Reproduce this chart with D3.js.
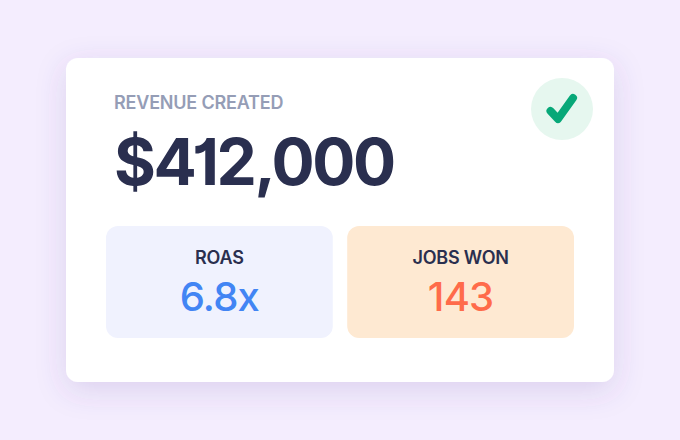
<!DOCTYPE html>
<html>
<head>
<meta charset="utf-8">
<script src="https://cdn.jsdelivr.net/npm/d3@7"></script>
<style>
html, body { margin: 0; padding: 0; background: #f4edfe; }
svg { display: block; }
text { font-family: Inter, sans-serif; }
</style>
</head>
<body>
<div id="chart"></div>
<script>
// ************ Data ************
var headline_label = 'REVENUE CREATED';
var headline_value = '$412,000';
var tile_labels = ['ROAS', 'JOBS WON'];
var tile_values = ['6.8x', '143'];
var tile_fills = ['#f0f2fe', '#fee9d2'];
var tile_colors = ['#4285f4', '#ff6b4a'];

var svg = d3.select('#chart').append('svg')
	.attr('width', 680)
	.attr('height', 440);

// card shadow
var filter = svg.append('defs').append('filter')
	.attr('id', 'shadow')
	.attr('x', '-20%').attr('y', '-20%')
	.attr('width', '140%').attr('height', '150%');
filter.append('feDropShadow')
	.attr('dx', 0).attr('dy', 8)
	.attr('stdDeviation', 15)
	.attr('flood-color', '#5a3c96')
	.attr('flood-opacity', 0.16);

svg.append('rect')
	.attr('width', 680).attr('height', 440)
	.style('fill', '#f4edfe');

svg.append('rect')
	.attr('x', 66).attr('y', 58)
	.attr('width', 548).attr('height', 324)
	.attr('rx', 12)
	.style('fill', '#fff')
	.style('filter', 'url(#shadow)');

// ************ Headline ************
svg.append('text')
	.attr('x', 114).attr('y', 109)
	.style('font-size', '18px')
	.style('font-weight', 600)
	.style('letter-spacing', '-0.2px')
	.style('fill', '#959db6')
	.text(headline_label);

svg.append('text')
	.attr('x', 114).attr('y', 185)
	.style('font-size', '64px')
	.style('font-weight', 750)
	.style('letter-spacing', '-2.4px')
	.style('font-feature-settings', '"cv01"')
	.style('fill', '#2a2f4f')
	.text(headline_value);

// ************ Check badge ************
svg.append('circle')
	.attr('cx', 562).attr('cy', 109).attr('r', 31)
	.style('fill', '#e6f7ef');

svg.append('path')
	.attr('d', d3.line()([[550.5, 111], [558, 119], [573, 98]]))
	.style('fill', 'none')
	.style('stroke', '#07a878')
	.style('stroke-width', 8)
	.style('stroke-linecap', 'round')
	.style('stroke-linejoin', 'round');

// ************ Tiles ************
var x = d3.scaleBand()
	.domain(tile_labels)
	.range([106, 574])
	.paddingInner(14 / 234);

var tiles = svg.selectAll('.tile')
	.data(tile_labels)
	.enter().append('g')
	.attr('class', 'tile')
	.attr('transform', function(d) { return 'translate(' + x(d) + ',226)'; });

tiles.append('rect')
	.attr('width', x.bandwidth())
	.attr('height', 112)
	.attr('rx', 12)
	.style('fill', function(d, i) { return tile_fills[i]; });

tiles.append('text')
	.attr('x', x.bandwidth() / 2).attr('y', 38)
	.attr('text-anchor', 'middle')
	.style('font-size', '18px')
	.style('font-weight', 600)
	.style('letter-spacing', '-0.2px')
	.style('fill', '#2a2f4f')
	.text(function(d) { return d; });

tiles.append('text')
	.attr('x', x.bandwidth() / 2).attr('y', 85)
	.attr('text-anchor', 'middle')
	.style('font-size', '40px')
	.style('font-weight', 500)
	.style('letter-spacing', '-0.8px')
	.style('fill', function(d, i) { return tile_colors[i]; })
	.text(function(d, i) { return tile_values[i]; });
</script>
</body>
</html>
